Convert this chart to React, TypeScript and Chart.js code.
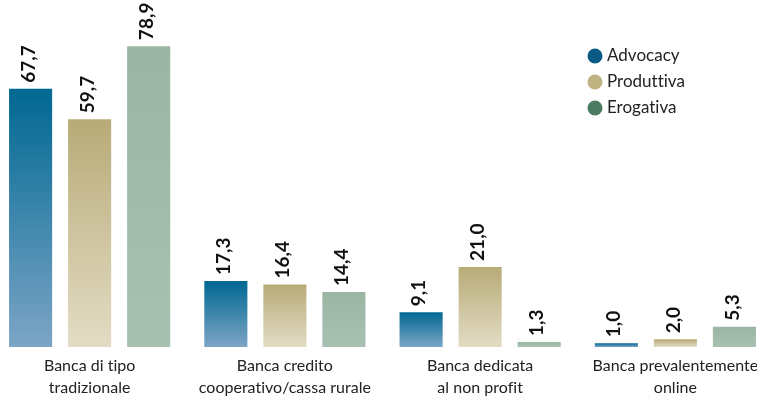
import React, { useEffect, useRef } from "react";
import { Chart, registerables } from "chart.js";

Chart.register(...registerables);

const categories: string[][] = [
  ["Banca di tipo", "tradizionale"],
  ["Banca credito", "cooperativo/cassa rurale"],
  ["Banca dedicata", "al non profit"],
  ["Banca prevalentemente", "online"],
];
const seriesNames = ["Advocacy", "Produttiva", "Erogativa"];
const advocacy = [67.7, 17.3, 9.1, 1.0];
const produttiva = [59.7, 16.4, 21.0, 2.0];
const erogativa = [78.9, 14.4, 1.3, 5.3];

const gradientStops = [
  ["#006892", "#7ca5c6"],
  ["#b8ab78", "#e3dcc4"],
  ["#9ab6a3", "#a8c0b1"],
];
const legendColors = ["#0b5a86", "#c1b381", "#4b7a63"];

const FONT = "Lato, 'Open Sans', sans-serif";

const fmt = (v: number) => v.toFixed(1).replace(".", ",");

export default function App() {
  const ref = useRef<HTMLCanvasElement | null>(null);

  useEffect(() => {
    document.body.style.overflow = "hidden";
    const canvas = ref.current!;
    const allSeries = [advocacy, produttiva, erogativa];

    const noLigatures = {
      id: "noLigatures",
      beforeDraw(chart: any) {
        try { (chart.ctx as any).letterSpacing = "0.01px"; } catch (e) {}
      },
    };

    const valueLabels = {
      id: "valueLabels",
      afterDatasetsDraw(chart: any) {
        const ctx = chart.ctx;
        ctx.save();
        ctx.fillStyle = "#111";
        ctx.font = `bold 19px ${FONT}`;
        ctx.textAlign = "left";
        ctx.textBaseline = "middle";
        chart.data.datasets.forEach((ds: any, di: number) => {
          const meta = chart.getDatasetMeta(di);
          meta.data.forEach((el: any, i: number) => {
            ctx.save();
            ctx.translate(el.x - 2, el.y - 6);
            ctx.rotate(-Math.PI / 2);
            ctx.fillText(fmt(ds.data[i]), 0, 0);
            ctx.restore();
          });
        });
        ctx.restore();
      },
    };

    const customLegend = {
      id: "customLegend",
      afterDraw(chart: any) {
        const ctx = chart.ctx;
        ctx.save();
        ctx.font = `17px ${FONT}`;
        ctx.textBaseline = "middle";
        ctx.textAlign = "left";
        seriesNames.forEach((name, i) => {
          const y = 56 + i * 26;
          ctx.fillStyle = legendColors[i];
          ctx.beginPath();
          ctx.arc(595 + 8, y, 7.5, 0, Math.PI * 2);
          ctx.fill();
          ctx.fillStyle = "#222";
          ctx.fillText(name, 607 + 8, y);
        });
        ctx.restore();
      },
    };

    const makeBg = (si: number) => (c: any) => {
      const chart = c.chart;
      const ys = chart.scales?.y;
      if (!ys || c.raw === undefined) return gradientStops[si][0];
      const top = ys.getPixelForValue(c.raw);
      const base = ys.getPixelForValue(0);
      if (!isFinite(top) || !isFinite(base) || top === base) return gradientStops[si][0];
      const g = chart.ctx.createLinearGradient(0, top, 0, base);
      g.addColorStop(0, gradientStops[si][0]);
      g.addColorStop(1, gradientStops[si][1]);
      return g;
    };

    const chart = new Chart(canvas, {
      type: "bar",
      data: {
        labels: categories,
        datasets: allSeries.map((d, si) => ({
          label: seriesNames[si],
          data: d,
          backgroundColor: makeBg(si),
          borderWidth: 0,
          categoryPercentage: 0.907,
          barPercentage: 0.73,
        })),
      },
      options: {
        animation: false,
        responsive: false,
        maintainAspectRatio: false,
        layout: { padding: 0 },
        plugins: {
          legend: { display: false },
          tooltip: { enabled: false },
        },
        scales: {
          x: {
            grid: { display: false },
            border: { display: false },
            ticks: {
              color: "#222",
              font: { family: FONT, size: 16, lineHeight: 1.375 },
              padding: 0,
              maxRotation: 0,
              autoSkip: false,
            },
            afterFit(scale: any) {
              scale.height = 49;
            },
          },
          y: {
            display: false,
            min: 0,
            max: 91,
          },
        },
      },
      plugins: [noLigatures, valueLabels, customLegend],
    });
    return () => chart.destroy();
  }, []);

  return (
    <div style={{ position: "fixed", left: -8, top: 0, width: 781, height: 396 }}>
      <canvas ref={ref} width={781} height={396} style={{ width: 781, height: 396, display: "block" }} />
    </div>
  );
}
